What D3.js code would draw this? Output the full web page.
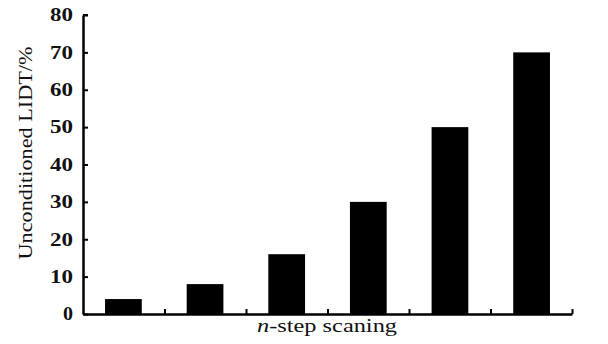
<!DOCTYPE html>
<html>
<head>
<meta charset="utf-8">
<script src="https://cdn.jsdelivr.net/npm/d3@7"></script>
<style>
  body { margin: 0; background: #fff; }
  svg { display: block; }
</style>
</head>
<body>
<div id="chart"></div>
<script>
const categories = ["1", "2", "3", "4", "5", "6"];
const values = [4, 8, 16, 30, 50, 70];
const yTicks = [0, 10, 20, 30, 40, 50, 60, 70, 80];

const W = 608, H = 344;
const margin = { top: 15, right: 36, bottom: 30, left: 83 };
const width = W - margin.left - margin.right;
const height = H - margin.top - margin.bottom;
const serif = "'Liberation Serif', 'DejaVu Serif', serif";

const svg = d3.select("#chart").append("svg")
  .attr("width", W)
  .attr("height", H)
  .style("font-family", serif);

const g = svg.append("g")
  .attr("transform", `translate(${margin.left},${margin.top})`);

const x = d3.scaleBand()
  .domain(categories)
  .range([0, width])
  .paddingInner(0.55)
  .paddingOuter(0.27);

const y = d3.scaleLinear()
  .domain([0, 80])
  .range([height, 0]);

g.selectAll("rect.bar")
  .data(values)
  .enter()
  .append("rect")
  .attr("class", "bar")
  .attr("x", (d, i) => x(categories[i]))
  .attr("y", d => y(d))
  .attr("width", x.bandwidth())
  .attr("height", d => height - y(d))
  .attr("fill", "#000");

// y axis, ticks pointing inward
const yAxis = g.append("g")
  .call(d3.axisLeft(y).tickValues(yTicks).tickSize(-5).tickPadding(10).tickSizeOuter(0))
  .attr("font-family", serif);
yAxis.select(".domain").attr("stroke-width", 2.5);
yAxis.selectAll(".tick line").attr("stroke-width", 2);
yAxis.selectAll("text")
  .style("font-size", "18px")
  .style("font-weight", "bold")
  .attr("fill", "#111")
  .attr("textLength", d => d === 0 ? 10 : 23)
  .attr("lengthAdjust", "spacingAndGlyphs");

// x axis: tick marks between bars, pointing up
const xLin = d3.scaleLinear().domain([0, categories.length]).range([0, width]);
const xAxis = g.append("g")
  .attr("transform", `translate(0,${height})`)
  .call(d3.axisBottom(xLin).tickValues(d3.range(1, categories.length + 1)).tickSize(-5).tickFormat("").tickSizeOuter(0));
xAxis.select(".domain").attr("stroke-width", 2.5);
xAxis.selectAll(".tick line").attr("stroke-width", 2);

// top tick on y axis end
g.append("line")
  .attr("x1", 0).attr("x2", 5)
  .attr("y1", y(80)).attr("y2", y(80))
  .attr("stroke", "#000").attr("stroke-width", 2);

svg.append("text")
  .attr("transform", `translate(32,153) rotate(-90)`)
  .attr("text-anchor", "middle")
  .style("font-size", "19px")
  .attr("fill", "#111")
  .attr("textLength", 213)
  .attr("lengthAdjust", "spacingAndGlyphs")
  .text("Unconditioned LIDT/%");

const xl = svg.append("text")
  .attr("x", 327)
  .attr("y", 332)
  .attr("text-anchor", "middle")
  .style("font-size", "18px")
  .attr("fill", "#111")
  .attr("textLength", 140)
  .attr("lengthAdjust", "spacingAndGlyphs");
xl.append("tspan").style("font-style", "italic").text("n");
xl.append("tspan").text("-step scaning");
</script>
</body>
</html>
